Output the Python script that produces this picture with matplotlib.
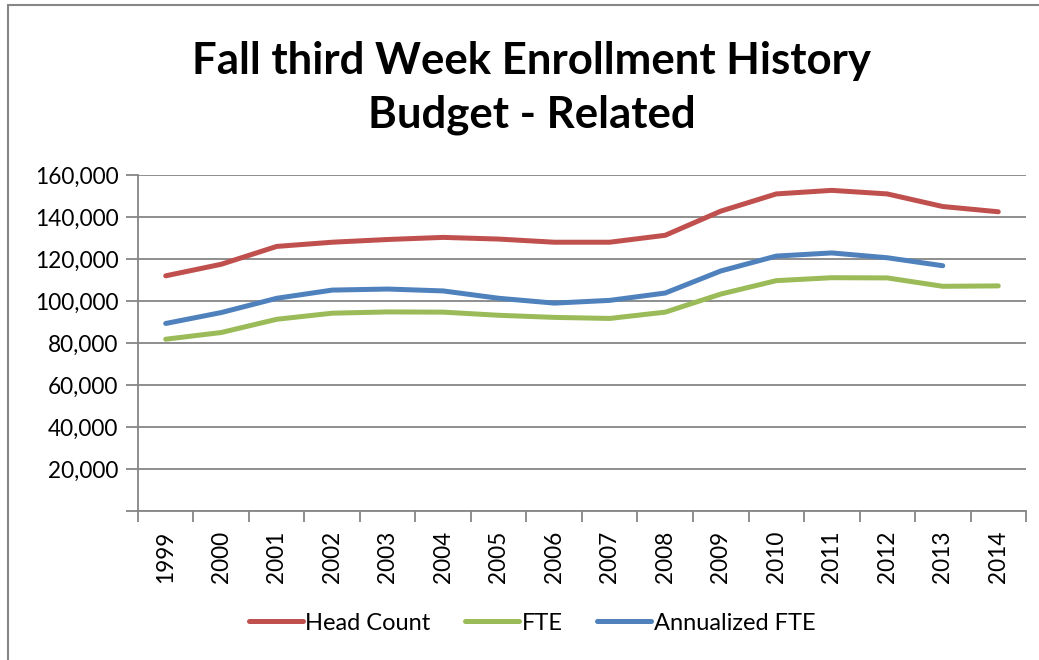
import numpy as np
import matplotlib
matplotlib.use("Agg")
import matplotlib.pyplot as plt
from matplotlib.patches import Rectangle

plt.rcParams['font.family'] = ['Lato', 'DejaVu Sans']

# data
years = ['1999', '2000', '2001', '2002', '2003', '2004', '2005', '2006',
         '2007', '2008', '2009', '2010', '2011', '2012', '2013', '2014']
head_count = [112000, 117500, 126000, 128000, 129300, 130300, 129500, 128000,
              128000, 131300, 142800, 151000, 152700, 151000, 145000, 142500]
fte = [81800, 85000, 91300, 94200, 94800, 94700, 93200, 92200,
       91700, 94700, 103300, 109700, 111100, 111000, 107000, 107200]
annualized_fte = [89300, 94500, 101300, 105200, 105700, 104800, 101300, 99000,
                  100300, 103800, 114300, 121400, 122900, 120600, 116800, None]

grid_color = '#868686'

fig = plt.figure(figsize=(10.39, 6.6), dpi=100)
ax = fig.add_axes([0.1328, 0.2258, 0.8547, 0.509])

x = np.arange(len(years))
ann = np.array([np.nan if v is None else v for v in annualized_fte], dtype=float)

ax.plot(x, head_count, color='#C0504D', lw=3.6, solid_capstyle='round', label='Head Count', zorder=3)
ax.plot(x, fte, color='#9BBB59', lw=3.6, solid_capstyle='round', label='FTE', zorder=3)
ax.plot(x, ann, color='#4F81BD', lw=3.6, solid_capstyle='round', label='Annualized FTE', zorder=3)

ax.set_xlim(-0.5, len(years) - 0.5)
ax.set_ylim(0, 160000)
ax.set_yticks(np.arange(0, 160001, 20000))
ax.set_yticklabels([''] + [f'{v:,}' for v in range(20000, 160001, 20000)])
ax.grid(axis='y', color=grid_color, lw=1.3)
ax.set_axisbelow(True)

# category labels at centres, tick marks between categories
ax.set_xticks(x)
ax.set_xticklabels(years, rotation=90)
ax.set_xticks(np.arange(-0.5, len(years)), minor=True)
ax.tick_params(axis='x', which='major', length=0, pad=14, labelsize=16.3)
ax.tick_params(axis='x', which='minor', length=8, width=1.3, color=grid_color, direction='out')
ax.tick_params(axis='y', length=9, width=1.3, color=grid_color, direction='out', pad=5, labelsize=16.3)

for side in ['top', 'right']:
    ax.spines[side].set_visible(False)
for side in ['left', 'bottom']:
    ax.spines[side].set_color(grid_color)
    ax.spines[side].set_linewidth(1.3)

fig.text(0.512, 0.867, 'Fall third Week Enrollment History\nBudget - Related',
         ha='center', va='center', fontsize=31.5, fontweight='bold', linespacing=1.42)

ax.legend(loc='center', bbox_to_anchor=(0.512, 0.056), bbox_transform=fig.transFigure,
          ncol=3, frameon=False, fontsize=17, handlelength=2.3, handletextpad=0.1,
          columnspacing=1.45)

# outer chart border
fig.patches.append(Rectangle((8 / 1039, -0.05), 1.05, 1 - 5 / 660 + 0.05,
                             transform=fig.transFigure, fill=False,
                             edgecolor=grid_color, lw=1.5))

fig.savefig('out.png', dpi=100)
